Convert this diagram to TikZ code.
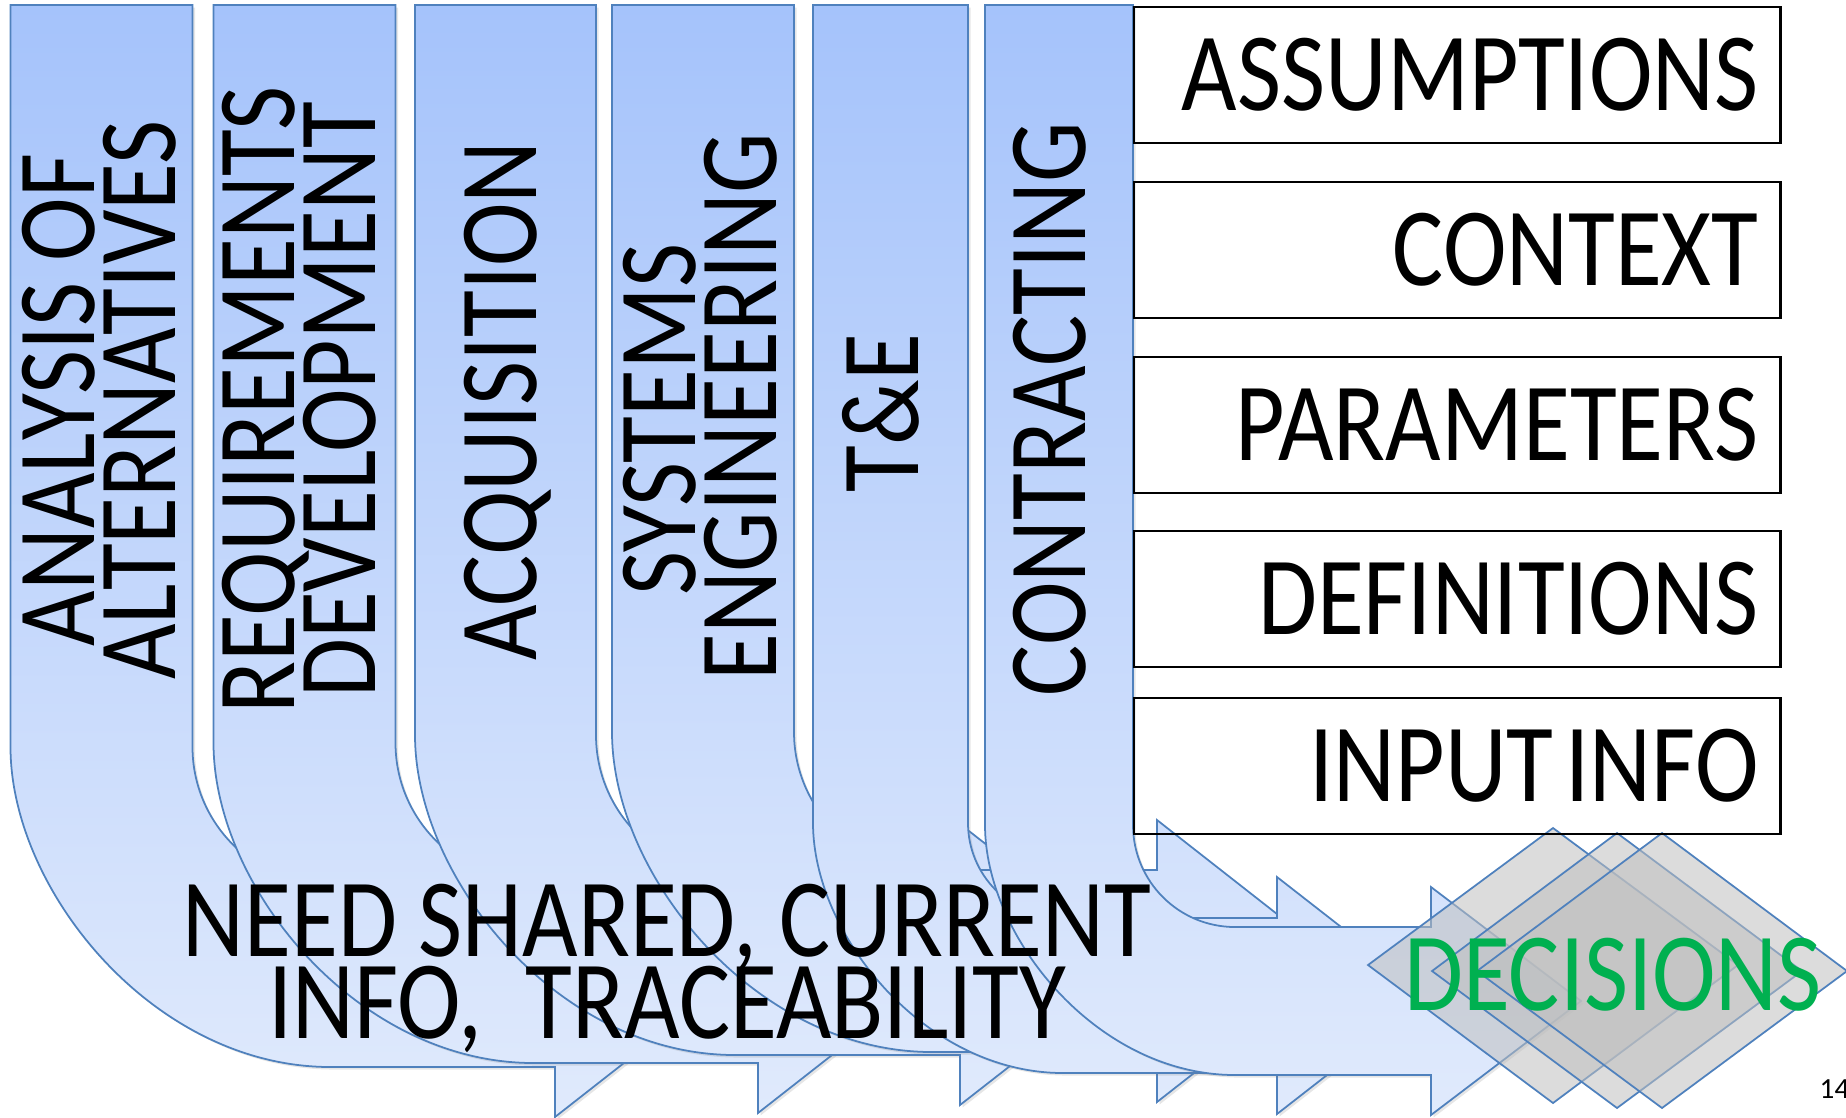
\documentclass[tikz,border=0pt]{standalone}
\usepackage{fontspec}
\setmainfont{Carlito}
\newfontfamily\narrowfont{Carlito}[FakeStretch=0.86]
\usetikzlibrary{shadows}

\definecolor{arrowedge}{RGB}{79,129,189}
\definecolor{arrowtop}{RGB}{165,195,251}
\definecolor{arrowbottom}{RGB}{224,234,252}
\definecolor{decisiongreen}{RGB}{0,176,80}
\definecolor{decisiongray}{RGB}{191,191,191}

\newcommand\labelfont{\narrowfont\fontsize{31.7}{23.3}\selectfont\lineskiplimit=-40pt}

\tikzset{
  bent/.style={draw=arrowedge, line width=0.5pt, top color=arrowtop, bottom color=arrowbottom,
    drop shadow={opacity=0.2, shadow xshift=0.025cm, shadow yshift=-0.025cm}},
  stemlabel/.style={rotate=90, anchor=north, inner sep=0pt, align=center, font=\labelfont},
  infobox/.style={draw, line width=0.6pt, anchor=north west, inner xsep=0.22cm, inner ysep=0pt,
    minimum height=1.36cm, text width=6.02cm, align=right, font=\labelfont},
  decision/.style={fill=decisiongray, fill opacity=0.55, draw=arrowedge, line width=0.5pt}
}

\begin{document}
\begin{tikzpicture}[x=0.01cm, y=-0.01cm]
\useasboundingbox (0,0) rectangle (1846,1117);
% stem left, width, bend radius, shaft bottom, head x, head overhang, head length
\def\bentarrow#1#2#3#4#5#6#7{(#1,5) -- ({#1+#2},5) -- ({#1+#2},{#4-#3})
  .. controls ({#1+#2},{#4-#3+0.552*(#3-#2)}) and ({#1+#3-0.552*(#3-#2)},{#4-#2}) .. ({#1+#3},{#4-#2})
  -- (#5,{#4-#2}) -- (#5,{#4-#2-#6}) -- ({#5+#7},{#4-#2/2}) -- (#5,{#4+#6}) -- (#5,#4)
  -- ({#1+#3},#4) .. controls ({#1+#3-0.552*#3},#4) and (#1,{#4-0.552*#3}) .. (#1,{#4-#3}) -- cycle}

\path[bent] \bentarrow{10.5}{182}{320}{1067}{555}{50}{180};
\path[bent] \bentarrow{213.5}{182}{320}{1063}{758}{50}{180};
\path[bent] \bentarrow{415}{181}{320}{1055}{960}{50}{180};
\path[bent] \bentarrow{612}{182}{320}{1052}{1157}{50}{180};
\path[bent] \bentarrow{813}{155}{250}{1073}{1277}{41}{152};
\path[bent] \bentarrow{985}{148}{250}{1075}{1431}{40}{150};

\node[stemlabel] (aoa) at (21,400) {ANALYSIS OF\\ALTERNATIVES};
\node[stemlabel] (reqdev) at (221,400) {REQUIREMENTS\\DEVELOPMENT};
\node[stemlabel] (acq) at (463,401) {ACQUISITION};
\node[stemlabel] (syseng) at (622,407) {SYSTEMS\hspace*{0.25cm}\\ENGINEERING};
\node[stemlabel] (tande) at (842,413) {T\&E};
\node[stemlabel] (contract) at (1012,409) {CONTRACTING};

% decisions
\path[decision] (1553,828) -- (1738,965) -- (1553,1103) -- (1368,965) -- cycle;
\path[decision] (1617,833) -- (1802,971) -- (1617,1108) -- (1432,971) -- cycle;
\path[decision] (1662,833) -- (1847,971) -- (1662,1108) -- (1477,971) -- cycle;

\node[infobox] (assump) at (1133,6) {ASSUMPTIONS};
\node[infobox] (context) at (1133,181) {CONTEXT};
\node[infobox] (params) at (1133,356) {PARAMETERS};
\node[infobox] (defs) at (1133,530) {DEFINITIONS};
\node[infobox] (input) at (1133,697) {INPUT\hspace{-0.25cm} INFO};

\node[anchor=north, inner sep=0pt, align=center, font=\labelfont] (need) at (667,883)
  {NEED SHARED, CURRENT\\INFO,\ \ TRACEABILITY};
\node[anchor=base, inner sep=0pt, font=\labelfont, text=decisiongreen] (decide) at (1613,1010) {DECISIONS};
\node[anchor=base west, inner sep=0pt, font=\fontsize{8.3}{10}\selectfont] (page) at (1819,1098) {14};
\end{tikzpicture}
\end{document}
